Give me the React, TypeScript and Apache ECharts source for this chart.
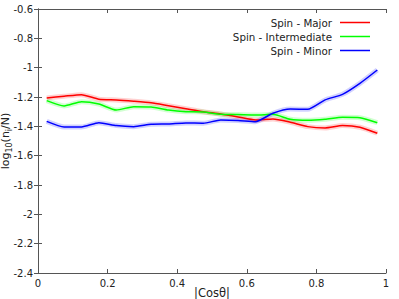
import React, { useEffect, useRef } from "react";
import * as echarts from "echarts";

const cosTheta = [0.025, 0.075, 0.125, 0.175, 0.225, 0.275, 0.325, 0.375, 0.425, 0.475, 0.525, 0.575, 0.625, 0.675, 0.725, 0.775, 0.825, 0.875, 0.925, 0.975];
const major = [-1.207, -1.195, -1.184, -1.215, -1.22, -1.229, -1.24, -1.26, -1.28, -1.3, -1.316, -1.336, -1.357, -1.35, -1.372, -1.402, -1.411, -1.395, -1.406, -1.447];
const inter = [-1.225, -1.261, -1.232, -1.248, -1.289, -1.266, -1.268, -1.289, -1.3, -1.302, -1.318, -1.32, -1.323, -1.318, -1.352, -1.359, -1.352, -1.338, -1.341, -1.375];
const minor = [-1.366, -1.404, -1.404, -1.375, -1.395, -1.402, -1.386, -1.384, -1.377, -1.379, -1.357, -1.36, -1.368, -1.311, -1.282, -1.284, -1.22, -1.182, -1.107, -1.016];
const seriesNames = ["Spin - Major", "Spin - Intermediate", "Spin - Minor"];
const seriesColors = ["#ff0000", "#00ff00", "#0000ff"];
const seriesValues = [major, inter, minor];

const FONT = "DejaVu Sans";

export default function App() {
  const ref = useRef<HTMLDivElement>(null);
  useEffect(() => {
    if (!ref.current) return;
    const chart = echarts.init(ref.current, null, { renderer: "svg" });
    const fmt = (v: number) => String(Math.round(v * 10) / 10);
    const axisLine = { show: true, lineStyle: { color: "#555", width: 1 } };
    const axisTick = { show: true, inside: true, length: 4, lineStyle: { color: "#555" } };
    const series: any[] = [];
    seriesValues.forEach((vals, i) => {
      const data = cosTheta.map((x, k) => [x, vals[k]]);
      series.push({
        type: "line",
        name: seriesNames[i] + " glow",
        data,
        symbol: "none",
        smooth: 0.2,
        silent: true,
        lineStyle: { color: seriesColors[i], width: 5, opacity: 0.18 },
        z: 1,
      });
      series.push({
        type: "line",
        name: seriesNames[i],
        data,
        symbol: "none",
        smooth: 0.2,
        color: seriesColors[i],
        lineStyle: { color: seriesColors[i], width: 1.5 },
        z: 2,
      });
    });
    chart.setOption({
      animation: false,
      backgroundColor: "#fff",
      textStyle: { fontFamily: FONT },
      grid: { left: 38, top: 9, right: 13, bottom: 26, containLabel: false, outerBoundsMode: "none" },
      legend: {
        data: seriesNames,
        orient: "vertical",
        right: 24,
        top: 11,
        align: "right",
        icon: "rect",
        itemWidth: 30,
        itemHeight: 1.5,
        itemGap: 1,
        textStyle: { fontFamily: FONT, fontSize: 10.3, color: "#222", lineHeight: 13, padding: [0, 3, 0, 0] },
      },
      xAxis: [
        {
          type: "value",
          min: 0,
          max: 1,
          interval: 0.2,
          position: "bottom",
          axisLine,
          axisTick,
          splitLine: { show: false },
          axisLabel: { fontFamily: FONT, fontSize: 10, color: "#222", margin: 5, formatter: fmt },
          name: "|Cosθ|",
          nameLocation: "middle",
          nameGap: 13,
          nameMoveOverlap: false,
          nameTextStyle: { fontFamily: FONT, fontSize: 11.5, color: "#222", lineHeight: 13 },
        },
        {
          type: "value",
          min: 0,
          max: 1,
          interval: 0.2,
          position: "top",
          axisLine,
          axisTick,
          splitLine: { show: false },
          axisLabel: { show: false },
        },
      ],
      yAxis: [
        {
          type: "value",
          min: -2.4,
          max: -0.6,
          interval: 0.2,
          position: "left",
          axisLine,
          axisTick,
          splitLine: { show: false },
          axisLabel: { fontFamily: FONT, fontSize: 10, color: "#222", margin: 5, formatter: fmt },
          name: "{a|log}{s|10}{a|(n}{s|i}{a|/N)}",
          nameLocation: "middle",
          nameGap: 25,
          nameRotate: 90,
          nameMoveOverlap: false,
          nameTextStyle: {
            fontFamily: FONT,
            color: "#222",
            rich: {
              a: { fontFamily: FONT, fontSize: 11, color: "#222", lineHeight: 16, verticalAlign: "middle" },
              s: { fontFamily: FONT, fontSize: 8, color: "#222", lineHeight: 8, verticalAlign: "bottom", padding: [0, 0, 0, 0] },
            },
          },
        },
        {
          type: "value",
          min: -2.4,
          max: -0.6,
          interval: 0.2,
          position: "right",
          axisLine,
          axisTick,
          splitLine: { show: false },
          axisLabel: { show: false },
        },
      ],
      series,
    });
    return () => chart.dispose();
  }, []);
  return (
    <div
      ref={ref}
      style={{ position: "absolute", left: 0, top: 0, width: 399, height: 299, background: "#fff" }}
    />
  );
}
